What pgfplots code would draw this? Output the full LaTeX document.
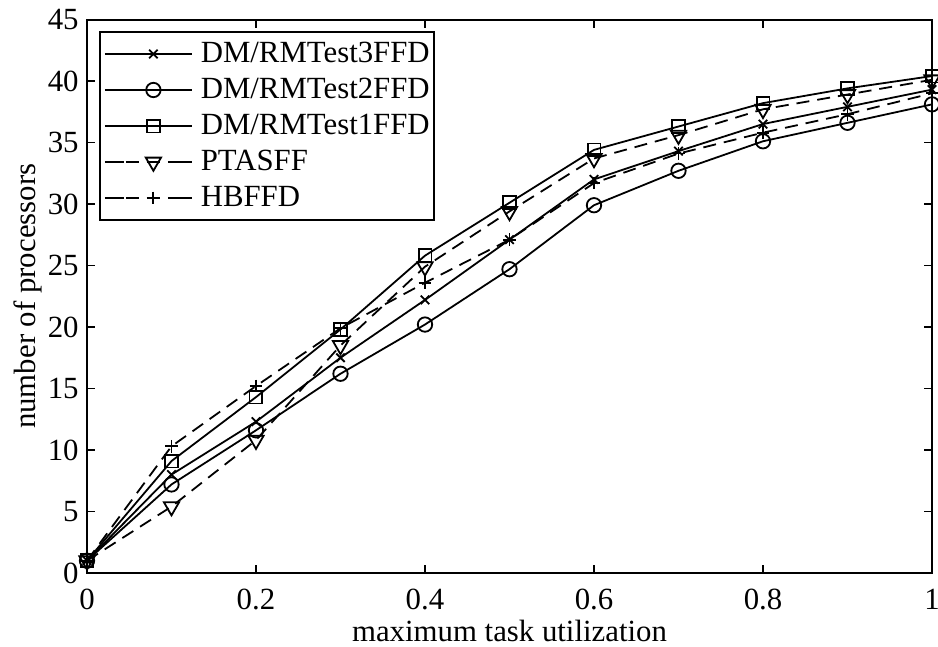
\documentclass[border=0pt]{standalone}
\usepackage{fontspec}
\setmainfont{Liberation Serif}
\usepackage{pgfplots}
\pgfplotsset{compat=1.18}

\newcommand{\lblfont}{\fontsize{15.4}{18}\selectfont}

\pgfplotsset{
  solidleg/.style={legend image code/.code={
      \path (0pt,0pt) -- (43.5pt,0pt);
      \draw[##1,mark repeat=2,mark phase=2] plot coordinates {(5pt,0pt) (24.25pt,0pt) (43.5pt,0pt)};}},
  dashleg/.style={legend image code/.code={
      \path (0pt,0pt) -- (43.5pt,0pt);
      \draw[##1,solid] (5pt,0pt) -- (9.5pt,0pt) (35pt,0pt) -- (42pt,0pt);
      \draw[##1,only marks] plot coordinates {(24.25pt,0pt)};}},
}

\begin{document}
\begin{tikzpicture}
\begin{axis}[
    scale only axis,
    width=422.5pt, height=276.75pt,
    xmin=0, xmax=1, ymin=0, ymax=45,
    xtick={0,0.2,0.4,0.6,0.8,1},
    ytick={0,5,10,15,20,25,30,35,40,45},
    tick align=inside,
    major tick length=4pt,
    axis line style={line width=1pt},
    every tick/.style={black, line width=0.6pt},
    /pgf/number format/assume math mode=true,
    tick label style={font=\lblfont},
    xticklabel style={anchor=base, yshift=-18.5pt, inner sep=0pt},
    yticklabel style={anchor=east, xshift=-4pt, inner sep=0pt},
    xlabel={maximum task utilization},
    ylabel={number of processors},
    label style={font=\lblfont},
    xlabel style={at={(axis description cs:0.5,0)}, anchor=base, yshift=-34.3pt},
    ylabel style={at={(axis description cs:-0.0604,0.5)}, anchor=base, rotate=0},
    clip=false,
    legend cell align=left,
    legend style={at={(axis description cs:0,1)}, anchor=north west,
        xshift=6pt, yshift=-5.75pt, font=\lblfont, draw=black, line width=1pt,
        inner xsep=2pt, inner ysep=4pt, column sep=4pt, row sep=4pt,
        nodes={inner sep=0pt, text height=11pt, text depth=3pt}},
    every axis plot/.append style={black, line width=0.9pt},
]
\addplot[solid, mark=x, mark size=3pt, solidleg] coordinates {
(0,1) (0.1,8.0) (0.2,12.3) (0.3,17.5) (0.4,22.2) (0.5,27.1) (0.6,32.0) (0.7,34.3) (0.8,36.5) (0.9,37.9) (1,39.3)
};
\addlegendentry{DM/RMTest3FFD}
\addplot[solid, mark=o, mark size=3.6pt, solidleg] coordinates {
(0,1) (0.1,7.2) (0.2,11.6) (0.3,16.2) (0.4,20.2) (0.5,24.7) (0.6,29.9) (0.7,32.7) (0.8,35.1) (0.9,36.6) (1,38.1)
};
\addlegendentry{DM/RMTest2FFD}
\addplot[solid, mark=square, mark size=3.2pt, solidleg] coordinates {
(0,1) (0.1,9.1) (0.2,14.3) (0.3,19.8) (0.4,25.8) (0.5,30.1) (0.6,34.4) (0.7,36.3) (0.8,38.2) (0.9,39.4) (1,40.4)
};
\addlegendentry{DM/RMTest1FFD}
\addplot[dash pattern=on 6.5pt off 4pt, mark=triangle, mark size=4.4pt, mark options={solid, rotate=180}, dashleg] coordinates {
(0,1) (0.1,5.4) (0.2,10.8) (0.3,18.5) (0.4,24.9) (0.5,29.4) (0.6,33.7) (0.7,35.6) (0.8,37.7) (0.9,38.9) (1,40.1)
};
\addlegendentry{PTASFF}
\addplot[dash pattern=on 6.5pt off 4pt, mark=+, mark size=3.2pt, mark options={solid}, dashleg] coordinates {
(0,1) (0.1,10.3) (0.2,15.2) (0.3,19.9) (0.4,23.6) (0.5,27.1) (0.6,31.7) (0.7,34.1) (0.8,35.8) (0.9,37.3) (1,39.0)
};
\addlegendentry{HBFFD}
\end{axis}
\pgfresetboundingbox
\path ([shift={(-43.5pt,-37pt)}]current axis.south west) rectangle ([shift={(3pt,9.75pt)}]current axis.north east);
\end{tikzpicture}
\end{document}
